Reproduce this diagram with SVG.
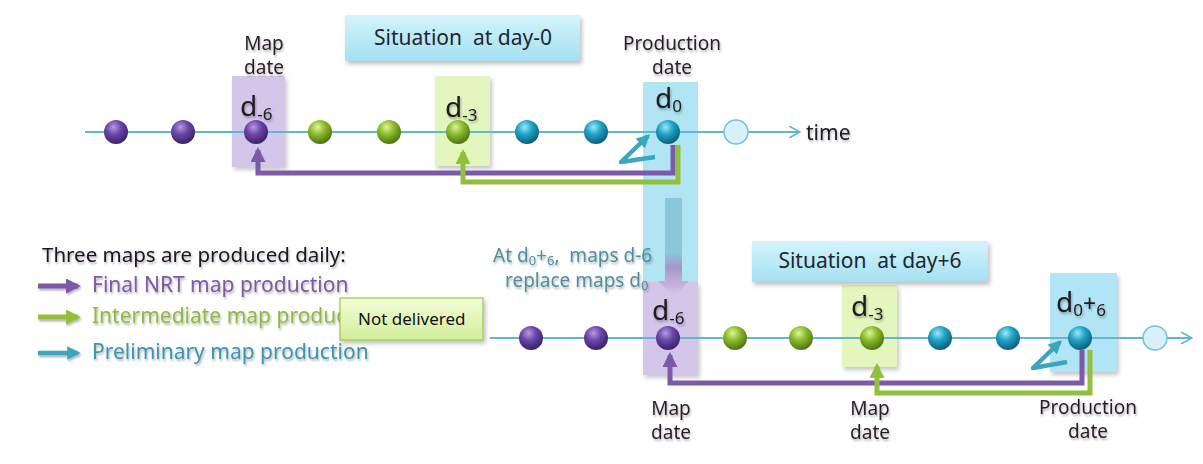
<svg xmlns="http://www.w3.org/2000/svg" width="1203" height="464" viewBox="0 0 1203 464">
  <defs>
    <radialGradient id="gPurple" cx="0.4" cy="0.3" r="0.7">
      <stop offset="0" stop-color="#b49ae0"/>
      <stop offset="0.45" stop-color="#6a46a8"/>
      <stop offset="1" stop-color="#3a2268"/>
    </radialGradient>
    <radialGradient id="gGreen" cx="0.4" cy="0.3" r="0.7">
      <stop offset="0" stop-color="#dff59a"/>
      <stop offset="0.45" stop-color="#8cbb2c"/>
      <stop offset="1" stop-color="#4f7414"/>
    </radialGradient>
    <radialGradient id="gBlue" cx="0.4" cy="0.3" r="0.7">
      <stop offset="0" stop-color="#9ee8f8"/>
      <stop offset="0.45" stop-color="#1fa3c6"/>
      <stop offset="1" stop-color="#0d5f7c"/>
    </radialGradient>
    <linearGradient id="gTitle" x1="0" y1="0" x2="0" y2="1">
      <stop offset="0" stop-color="#d4f4fc"/>
      <stop offset="1" stop-color="#a4e0f2"/>
    </linearGradient>
    <linearGradient id="gNote" x1="0" y1="0" x2="0" y2="1">
      <stop offset="0" stop-color="#f4fcd8"/>
      <stop offset="1" stop-color="#d2ee9a"/>
    </linearGradient>
    <linearGradient id="gDown" x1="0" y1="0" x2="0" y2="1">
      <stop offset="0" stop-color="#86c4d6"/>
      <stop offset="0.55" stop-color="#86c4d6"/>
      <stop offset="0.7" stop-color="#a88cc4"/>
      <stop offset="1" stop-color="#d6c8ea"/>
    </linearGradient>
    <filter id="shadow" x="-10%" y="-20%" width="130%" height="150%">
      <feDropShadow dx="2" dy="3" stdDeviation="2" flood-color="#000" flood-opacity="0.25"/>
    </filter>
    <filter id="tshadow" x="-5%" y="-20%" width="110%" height="150%">
      <feDropShadow dx="1" dy="2" stdDeviation="1.2" flood-color="#000" flood-opacity="0.3"/>
    </filter>
    <marker id="mPurple" viewBox="0 0 10 10" refX="8" refY="5" markerWidth="3" markerHeight="3" orient="auto">
      <path d="M0,0 L10,5 L0,10 z" fill="#7b5aa6"/>
    </marker>
    <marker id="mGreen" viewBox="0 0 10 10" refX="8" refY="5" markerWidth="3" markerHeight="3" orient="auto">
      <path d="M0,0 L10,5 L0,10 z" fill="#93bf3e"/>
    </marker>
    <marker id="mBlue" viewBox="0 0 10 10" refX="8" refY="5" markerWidth="3" markerHeight="3" orient="auto">
      <path d="M0,0 L10,5 L0,10 z" fill="#3aa6c0"/>
    </marker>
    <marker id="mOpen" viewBox="0 0 12 12" refX="11" refY="6" markerWidth="12" markerHeight="12" markerUnits="userSpaceOnUse" orient="auto">
      <path d="M0,0 L11,6 L0,12" fill="none" stroke="#5fb8d0" stroke-width="1.6"/>
    </marker>
  </defs>
  <style>
    text { font-family: "Noto Sans", "DejaVu Sans", sans-serif; }
    .lbl { font-size: 19px; fill: #2c1e2c; text-anchor: middle; }
    .dlbl { font-size: 28px; fill: #1e1a22; }
    .sub { font-size: 17px; }
    .title { font-size: 21px; fill: #1c2630; text-anchor: middle; }
    .axis { stroke: #5fb8d0; stroke-width: 2; fill: none; }
    .dotP { fill: url(#gPurple); }
    .dotG { fill: url(#gGreen); }
    .dotB { fill: url(#gBlue); }
    .open { fill: #d8f1f9; stroke: #6cc2da; stroke-width: 1.5; }
    .linkP { stroke: #7b5aa6; stroke-width: 5; fill: none; }
    .linkG { stroke: #93bf3e; stroke-width: 5; fill: none; }
    .linkB { stroke: #3aa6c0; stroke-width: 4.5; fill: none; stroke-linejoin: round; }
    .boxP { fill: #cdbde6; opacity: 0.85; }
    .boxG { fill: #e1f6b6; opacity: 0.9; }
    .boxB { fill: #a9e2f3; opacity: 0.9; }
    .leg { font-size: 21px; }
    .note { font-size: 19px; fill: #4f8ea0; }
  </style>

  <rect x="0" y="0" width="1203" height="464" fill="#ffffff"/>

  <!-- highlight columns -->
  <g id="col-top-d-6"><rect class="boxP" x="232" y="76" width="53" height="91" filter="url(#shadow)"/></g>
  <g id="col-top-d-3"><rect class="boxG" x="435" y="76" width="55" height="90" filter="url(#shadow)"/></g>
  <g id="col-d0"><rect class="boxB" x="643" y="82" width="55" height="200"/></g>
  <g id="col-low-d-6"><rect class="boxP" x="643" y="282" width="55" height="93" filter="url(#shadow)"/></g>
  <g id="col-low-d-3"><rect class="boxG" x="842" y="285" width="55" height="82" filter="url(#shadow)"/></g>
  <g id="col-low-d0"><rect class="boxB" x="1050" y="273" width="67" height="99" filter="url(#shadow)"/></g>

  <!-- transfer arrow between the two situations -->
  <g id="shift-arrow">
    <path d="M665,198 H682 V281 H689 L673.5,297 L658,281 H665 Z" fill="url(#gDown)" opacity="0.9"/>
  </g>

  <!-- title boxes -->
  <g id="title-day0">
    <rect x="345" y="15" width="235" height="46" fill="url(#gTitle)" filter="url(#shadow)"/>
    <text class="title" x="463" y="45">Situation&#160; at day-0</text>
  </g>
  <g id="title-day6">
    <rect x="752" y="241" width="236" height="41" fill="url(#gTitle)" filter="url(#shadow)"/>
    <text class="title" x="870" y="268">Situation&#160; at day+6</text>
  </g>

  <!-- time axes -->
  <g id="axes">
    <line class="axis" x1="85" y1="132" x2="800" y2="132" marker-end="url(#mOpen)"/>
    <line class="axis" x1="490" y1="338" x2="1192" y2="338" marker-end="url(#mOpen)"/>
  </g>

  <!-- connectors -->
  <g id="connectors">
    <path class="linkP" d="M673,145 V173 H258 V150" marker-end="url(#mPurple)"/>
    <path class="linkG" d="M678,145 V182 H463 V152" marker-end="url(#mGreen)"/>
    <path class="linkB" d="M655,157 L621,162 L648,136" marker-end="url(#mBlue)"/>
    <path class="linkP" d="M1082,350 V383 H670 V355" marker-end="url(#mPurple)"/>
    <path class="linkG" d="M1090,350 V393 H877 V366" marker-end="url(#mGreen)"/>
    <path class="linkB" d="M1067,362 L1033,368 L1060,342" marker-end="url(#mBlue)"/>
  </g>

  <!-- day-0 timeline nodes -->
  <g id="top-nodes">
    <circle class="dotP" cx="116" cy="132" r="12"/>
    <circle class="dotP" cx="183" cy="132" r="12"/>
    <circle class="dotP" cx="256" cy="132" r="12"/>
    <circle class="dotG" cx="320" cy="132" r="12"/>
    <circle class="dotG" cx="389" cy="132" r="12"/>
    <circle class="dotG" cx="458" cy="132" r="12"/>
    <circle class="dotB" cx="527" cy="132" r="12"/>
    <circle class="dotB" cx="596" cy="132" r="12"/>
    <circle class="dotB" cx="668" cy="132" r="12"/>
    <circle class="open" cx="736" cy="132" r="12"/>
  </g>

  <!-- day+6 timeline nodes -->
  <g id="low-nodes">
    <circle class="dotP" cx="531" cy="338" r="12"/>
    <circle class="dotP" cx="596" cy="338" r="12"/>
    <circle class="dotP" cx="668" cy="338" r="12"/>
    <circle class="dotG" cx="735" cy="338" r="12"/>
    <circle class="dotG" cx="801" cy="338" r="12"/>
    <circle class="dotG" cx="872" cy="338" r="12"/>
    <circle class="dotB" cx="940" cy="338" r="12"/>
    <circle class="dotB" cx="1008" cy="338" r="12"/>
    <circle class="dotB" cx="1080" cy="338" r="12"/>
    <circle class="open" cx="1155" cy="338" r="12"/>
  </g>

  <!-- date labels -->
  <g id="labels" filter="url(#tshadow)">
    <text class="lbl" x="264" y="50">Map</text>
    <text class="lbl" x="264" y="74">date</text>
    <text class="lbl" x="672" y="50">Production</text>
    <text class="lbl" x="672" y="74">date</text>
    <text class="dlbl" x="240" y="116">d<tspan class="sub" dy="4">-6</tspan></text>
    <text class="dlbl" x="445" y="117">d<tspan class="sub" dy="4">-3</tspan></text>
    <text class="dlbl" x="655" y="108">d<tspan class="sub" dy="4">0</tspan></text>
    <text x="806" y="140" style="font-size:21px;fill:#1e1a22">time</text>

    <text class="dlbl" x="652" y="320">d<tspan class="sub" dy="4">-6</tspan></text>
    <text class="dlbl" x="851" y="316">d<tspan class="sub" dy="4">-3</tspan></text>
    <text class="dlbl" x="1056" y="312">d<tspan class="sub" dy="4">0</tspan><tspan dy="-4" style="font-size:23px">+</tspan><tspan class="sub" dy="4">6</tspan></text>

    <text class="lbl" x="671" y="415">Map</text>
    <text class="lbl" x="671" y="439">date</text>
    <text class="lbl" x="870" y="415">Map</text>
    <text class="lbl" x="870" y="439">date</text>
    <text class="lbl" x="1088" y="414">Production</text>
    <text class="lbl" x="1088" y="438">date</text>
  </g>

  <!-- replacement note -->
  <g id="replace-note" filter="url(#tshadow)">
    <text class="note" x="493" y="262">At d<tspan style="font-size:13px" dy="3">0</tspan><tspan dy="-3">+</tspan><tspan style="font-size:13px" dy="3">6</tspan><tspan dy="-3">,&#160; maps d-6</tspan></text>
    <text class="note" x="505" y="287">replace maps d<tspan style="font-size:13px" dy="3">0</tspan></text>
  </g>

  <!-- legend -->
  <g id="legend" filter="url(#tshadow)">
    <text x="42" y="262" style="font-size:20.5px;fill:#1e1424">Three maps are produced daily:</text>
    <line class="linkP" x1="38" y1="286" x2="78" y2="286" marker-end="url(#mPurple)"/>
    <text class="leg" x="92" y="292" fill="#7b5aa6">Final NRT map production</text>
    <line class="linkG" x1="38" y1="317" x2="78" y2="317" marker-end="url(#mGreen)"/>
    <text class="leg" x="92" y="323" fill="#93b840">Intermediate map produc</text>
    <line class="linkB" x1="38" y1="353" x2="78" y2="353" stroke-width="5" marker-end="url(#mBlue)"/>
    <text class="leg" x="92" y="359" fill="#3a94b0">Preliminary map production</text>
  </g>

  <!-- callout -->
  <g id="not-delivered">
    <rect x="340" y="298" width="143" height="42" fill="url(#gNote)" stroke="#9cc84a" stroke-width="1.2" filter="url(#shadow)"/>
    <text x="358" y="325" style="font-size:17px;fill:#111">Not delivered</text>
  </g>
</svg>
